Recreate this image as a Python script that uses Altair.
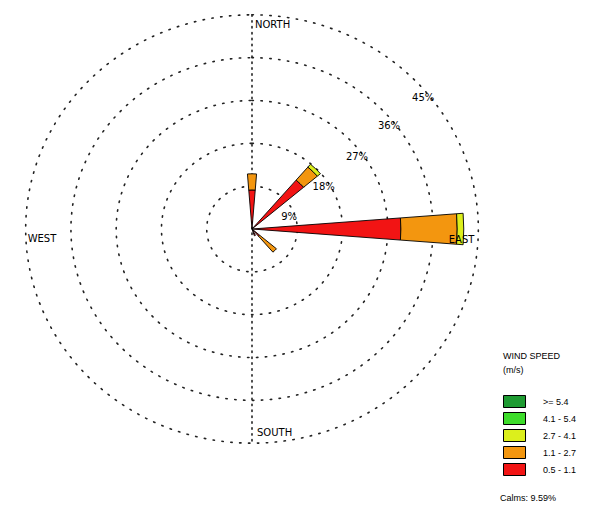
import math
import altair as alt
import pandas as pd

# Wind speed classes (m/s), listed top of legend first
speed_bins = [">= 5.4", "4.1 - 5.4", "2.7 - 4.1", "1.1 - 2.7", "0.5 - 1.1"]
bin_colors = ["#1e9b32", "#3ddc2a", "#dcef1c", "#f3960f", "#f21414"]

# Direction each petal blows from (degrees clockwise from north)
direction_deg = [0, 45, 90, 135, 157.5]

# Frequency (%) of each speed class per direction
freq_ge54 = [0.0, 0.0, 0.0, 0.0, 0.0]
freq_41_54 = [0.0, 0.0, 0.0, 0.0, 0.0]
freq_27_41 = [0.0, 0.8, 1.3, 0.0, 0.0]
freq_11_27 = [3.4, 3.6, 11.2, 4.4, 0.0]
freq_05_11 = [8.2, 13.5, 29.6, 2.0, 1.5]

ring_values = [9, 18, 27, 36, 45]
ring_labels = ["9%", "18%", "27%", "36%", "45%"]
calms_label = "Calms: 9.59%"

compass = ["NORTH", "EAST", "SOUTH", "WEST"]

# layout / style constants
W, H = 594, 510
CX, CY = 252, 229          # pixel centre of the rose
PX_X, PX_Y = 5.03, 4.76    # pixels per percent
HALF = 4.5                 # half-width of a petal, degrees
LABEL_ANGLE = [19, 32, 36, 38.5, 39]
FONT = "Liberation Sans"
LABEL_FONT = "DejaVu Sans"

x_scale = alt.Scale(domain=[-CX / PX_X, (W - CX) / PX_X], nice=False, zero=False)
y_scale = alt.Scale(domain=[-(H - CY) / PX_Y, CY / PX_Y], nice=False, zero=False)


def polar(r, deg):
    a = math.radians(deg)
    return r * math.sin(a), r * math.cos(a)


# petal polygons: one stacked segment per speed class
by_class = {
    "0.5 - 1.1": freq_05_11,
    "1.1 - 2.7": freq_11_27,
    "2.7 - 4.1": freq_27_41,
    "4.1 - 5.4": freq_41_54,
    ">= 5.4": freq_ge54,
}
petal_rows = []
pid = 0
for i, d in enumerate(direction_deg):
    r0 = 0.0
    for name in ["0.5 - 1.1", "1.1 - 2.7", "2.7 - 4.1", "4.1 - 5.4", ">= 5.4"]:
        f = by_class[name][i]
        if f <= 0:
            continue
        r1 = r0 + f
        outline = [(r0, d - HALF), (r1, d - HALF), (r1, d), (r1, d + HALF), (r0, d + HALF)]
        if r0 > 0:
            outline.append((r0, d))
        for k, (r, a) in enumerate(outline):
            x, y = polar(r, a)
            petal_rows.append({"pid": pid, "k": k, "x": x, "y": y, "speed": name})
        pid += 1
        r0 = r1
petals_df = pd.DataFrame(petal_rows)

# dotted percentage rings
ring_rows = []
for rv in ring_values:
    for k, a in enumerate(range(0, 362, 2)):
        x, y = polar(rv, a)
        ring_rows.append({"ring": rv, "k": k, "x": x, "y": y})
rings_df = pd.DataFrame(ring_rows)

outer = ring_values[-1]
axis_df = pd.DataFrame({"x": [0.0], "y": [outer], "y2": [-outer]})

ring_lab_df = pd.DataFrame({
    "x": [polar(r - 1.2, 90 - a)[0] for r, a in zip(ring_values, LABEL_ANGLE)],
    "y": [polar(r - 1.2, 90 - a)[1] for r, a in zip(ring_values, LABEL_ANGLE)],
    "label": ring_labels,
})

compass_df = pd.DataFrame({
    "label": compass,
    "x": [0.0, outer, 0.0, -outer],
    "y": [outer, 0.0, -outer, 0.0],
})

rings = alt.Chart(rings_df).mark_line(
    color="#222222", strokeWidth=1.6, strokeDash=[1.4, 7.5], strokeCap="round"
).encode(
    x=alt.X("x:Q", scale=x_scale, axis=None),
    y=alt.Y("y:Q", scale=y_scale, axis=None),
    detail="ring:N",
    order="k:Q",
)

ns_line = alt.Chart(axis_df).mark_rule(
    color="#222222", strokeWidth=1.6, strokeDash=[1.4, 4.5], strokeCap="round"
).encode(
    x=alt.X("x:Q", scale=x_scale),
    y=alt.Y("y:Q", scale=y_scale),
    y2="y2:Q",
)

speed_legend = alt.Legend(
    title=["WIND SPEED", "(m/s)"],
    orient="none", legendX=503, legendY=352,
    symbolType="M-1,-1H2.67V1H-1Z", symbolSize=144,
    symbolStrokeColor="black", symbolStrokeWidth=1, symbolOpacity=1,
    labelOffset=27, rowPadding=0, padding=0,
    titleFontSize=9, labelFontSize=9, titleFontWeight="normal",
    titleFont=FONT, labelFont=FONT, titlePadding=20, titleLineHeight=14,
    labelColor="black", titleColor="black",
)

petals = alt.Chart(petals_df).mark_line(
    filled=True, interpolate="linear-closed", stroke="black", strokeWidth=0.9,
    strokeJoin="miter",
).encode(
    x=alt.X("x:Q", scale=x_scale),
    y=alt.Y("y:Q", scale=y_scale),
    detail="pid:N",
    order="k:Q",
    color=alt.Color("speed:N", scale=alt.Scale(domain=speed_bins, range=bin_colors),
                    legend=speed_legend),
)

ring_text = alt.Chart(ring_lab_df).mark_text(
    font=LABEL_FONT, fontSize=10, color="black", align="center", baseline="middle",
).encode(x=alt.X("x:Q", scale=x_scale), y=alt.Y("y:Q", scale=y_scale), text="label:N")

compass_base = alt.Chart(compass_df).encode(
    x=alt.X("x:Q", scale=x_scale), y=alt.Y("y:Q", scale=y_scale), text="label:N"
)
text_style = dict(font=LABEL_FONT, fontSize=10, color="black", baseline="middle")
north = compass_base.transform_filter("datum.label == 'NORTH'").mark_text(
    align="left", dx=3, dy=10, **text_style)
south = compass_base.transform_filter("datum.label == 'SOUTH'").mark_text(
    align="left", dx=5, dy=-10, **text_style)
west = compass_base.transform_filter("datum.label == 'WEST'").mark_text(
    align="left", dx=2, dy=10, **text_style)
east = compass_base.transform_filter("datum.label == 'EAST'").mark_text(
    align="right", dx=-4, dy=11, **text_style)

calms = alt.Chart(pd.DataFrame({"t": [calms_label]})).mark_text(
    font=FONT, fontSize=9, color="black", align="left", baseline="middle",
).encode(x=alt.value(500), y=alt.value(498), text="t:N")

chart = alt.layer(rings, ns_line, petals, ring_text, north, south, west, east, calms).properties(
    width=W, height=H, padding=0, autosize=alt.AutoSizeParams(type="none"),
    background="white",
).configure_view(stroke=None)

chart.save("out.html", embed_options={"renderer": "svg", "actions": False})
